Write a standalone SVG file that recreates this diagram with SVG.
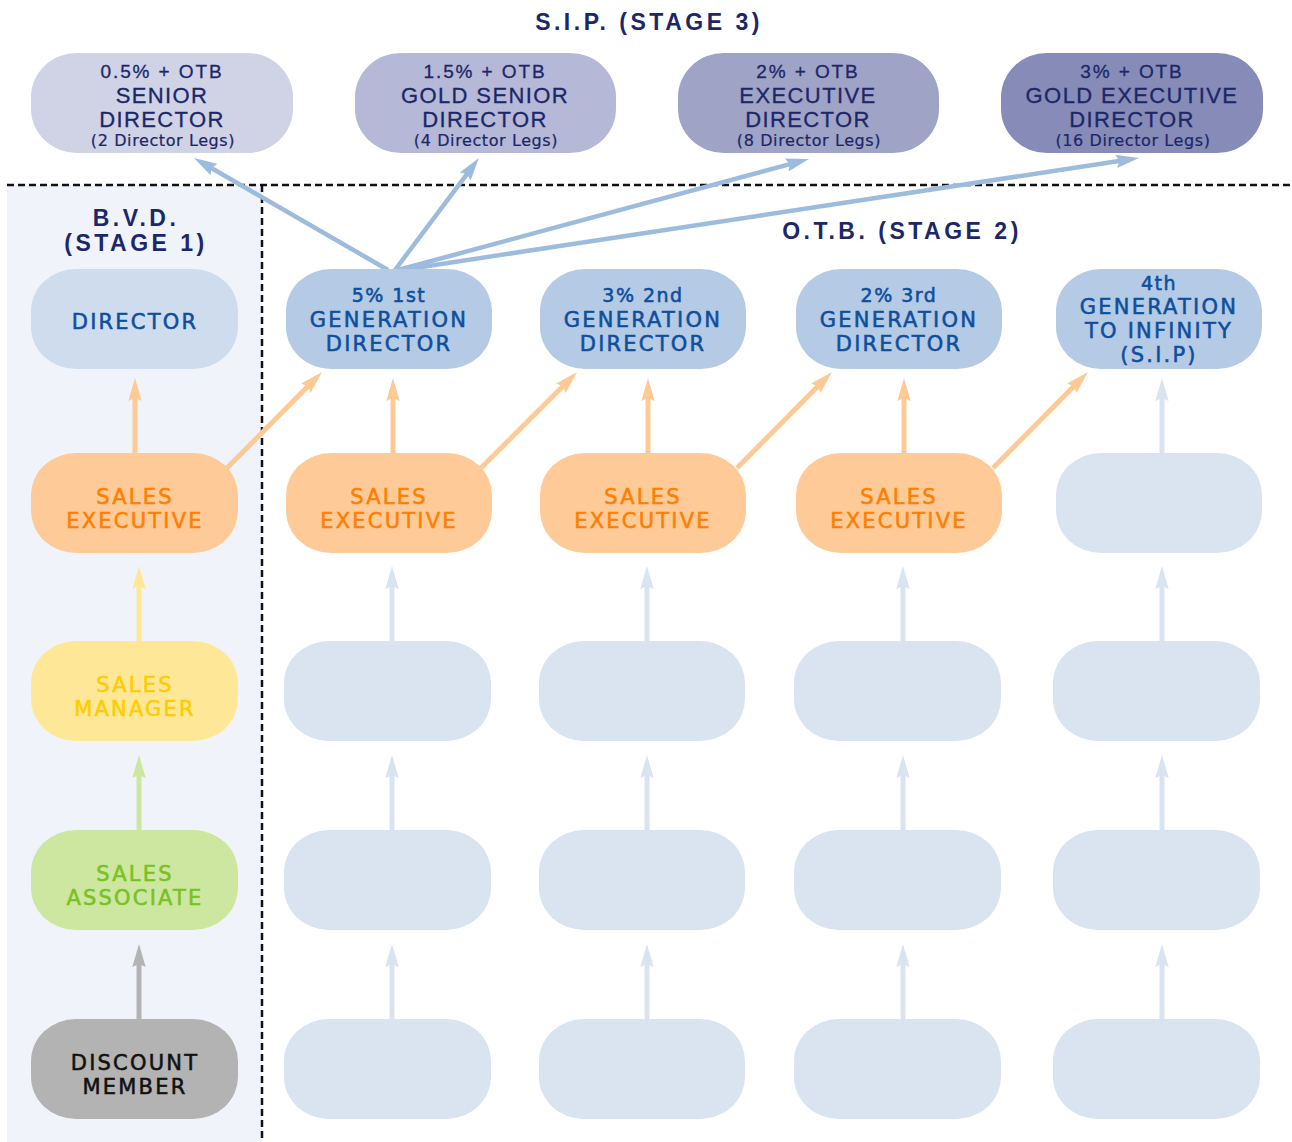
<svg xmlns="http://www.w3.org/2000/svg" width="1292" height="1142" viewBox="0 0 1292 1142">
<defs>
<style>
.t{font-family:"DejaVu Sans","Liberation Sans",sans-serif;text-anchor:middle;stroke-width:0.55px}
.s{font-family:"Liberation Sans","DejaVu Sans",sans-serif;text-anchor:middle;fill:#1b2768;stroke:#1b2768;stroke-width:0.3px}
.lg{font-family:"DejaVu Sans","Liberation Sans",sans-serif}
.ttl{font-family:"Liberation Sans","DejaVu Sans",sans-serif;font-weight:bold;font-size:23px;letter-spacing:3.5px;fill:#1b2768;text-anchor:middle}
.n{font-size:21px;letter-spacing:2.2px}
.sm{font-size:19px;letter-spacing:1.5px}
.s1{font-size:19px;letter-spacing:1.9px}
.s2{font-size:22px;letter-spacing:1.4px}
.s3{font-size:16px;letter-spacing:0.6px;stroke-width:0.2px}
.dir{fill:#0d4f9e;stroke:#0d4f9e}
.se{fill:#ff7f00;stroke:#ff7f00}
.smg{fill:#ffcc00;stroke:#ffcc00}
.sa{fill:#7ac123;stroke:#7ac123}
.dm{fill:#111111;stroke:#111111}
.ln{fill:none;stroke-width:5}
.sip{stroke:#9dbcdd;stroke-width:4.5;marker-end:url(#mSip)}
.or{stroke:#fdca96;marker-end:url(#mOr)}
.lb{stroke:#d9e4f0;marker-end:url(#mLb)}
.ye{stroke:#fee898;marker-end:url(#mYe)}
.gr{stroke:#cde7a1;marker-end:url(#mGr)}
.gy{stroke:#b3b3b3;marker-end:url(#mGy)}
</style>
<marker id="mSip" markerUnits="userSpaceOnUse" markerWidth="24" markerHeight="14" refX="11" refY="6.7" orient="auto"><path d="M0,0 L23,6.7 L0,13.4 L3,6.7 z" fill="#9dbcdd"/></marker>
<marker id="mOr" markerUnits="userSpaceOnUse" markerWidth="24" markerHeight="14" refX="11" refY="6.7" orient="auto"><path d="M0,0 L23,6.7 L0,13.4 L3,6.7 z" fill="#fdca96"/></marker>
<marker id="mLb" markerUnits="userSpaceOnUse" markerWidth="24" markerHeight="14" refX="11" refY="6.7" orient="auto"><path d="M0,0 L23,6.7 L0,13.4 L3,6.7 z" fill="#d9e4f0"/></marker>
<marker id="mYe" markerUnits="userSpaceOnUse" markerWidth="24" markerHeight="14" refX="11" refY="6.7" orient="auto"><path d="M0,0 L23,6.7 L0,13.4 L3,6.7 z" fill="#fee898"/></marker>
<marker id="mGr" markerUnits="userSpaceOnUse" markerWidth="24" markerHeight="14" refX="11" refY="6.7" orient="auto"><path d="M0,0 L23,6.7 L0,13.4 L3,6.7 z" fill="#cde7a1"/></marker>
<marker id="mGy" markerUnits="userSpaceOnUse" markerWidth="24" markerHeight="14" refX="11" refY="6.7" orient="auto"><path d="M0,0 L23,6.7 L0,13.4 L3,6.7 z" fill="#b3b3b3"/></marker>
</defs>
<rect width="1292" height="1142" fill="#ffffff"/>
<rect id="bvd-panel" x="7" y="185" width="255" height="957" fill="#f0f4fa"/>
<g id="dividers" stroke="#111" stroke-width="2.5" stroke-dasharray="7,4" fill="none">
<line x1="7" y1="185" x2="1292" y2="185"/>
<line x1="262" y1="185" x2="262" y2="1142"/>
</g>
<g id="titles">
<text class="ttl" x="649" y="30">S.I.P. (STAGE 3)</text>
<text class="ttl" x="136" y="226">B.V.D.</text>
<text class="ttl" x="136" y="251">(STAGE 1)</text>
<text class="ttl" x="902" y="239">O.T.B. (STAGE 2)</text>
</g>
<g id="connectors">
<line class="sip" x1="388" y1="270" x2="204.4" y2="164"/>
<line class="sip" x1="395" y1="270" x2="471.8" y2="167.6"/>
<line class="sip" x1="398" y1="270" x2="797.4" y2="162.1"/>
<line class="sip" x1="402" y1="270" x2="1127.1" y2="159.8"/>
<line class="ln or" x1="135" y1="453" x2="135" y2="390"/>
<line class="ln or" x1="393" y1="453" x2="393" y2="390"/>
<line class="ln or" x1="648" y1="453" x2="648" y2="390"/>
<line class="ln or" x1="904" y1="453" x2="904" y2="390"/>
<line class="ln lb" x1="1162" y1="453" x2="1162" y2="390"/>
<line class="ln or" x1="227" y1="468" x2="313.6" y2="380.5"/>
<line class="ln or" x1="481" y1="468" x2="568.6" y2="380.5"/>
<line class="ln or" x1="737" y1="468" x2="823.6" y2="380.5"/>
<line class="ln or" x1="993" y1="468" x2="1079.6" y2="380.5"/>
<line class="ln ye" x1="139" y1="641" x2="139" y2="578"/>
<line class="ln lb" x1="392" y1="641" x2="392" y2="578"/>
<line class="ln lb" x1="647" y1="641" x2="647" y2="578"/>
<line class="ln lb" x1="903" y1="641" x2="903" y2="578"/>
<line class="ln lb" x1="1162" y1="641" x2="1162" y2="578"/>
<line class="ln gr" x1="139" y1="830" x2="139" y2="767"/>
<line class="ln lb" x1="392" y1="830" x2="392" y2="767"/>
<line class="ln lb" x1="647" y1="830" x2="647" y2="767"/>
<line class="ln lb" x1="903" y1="830" x2="903" y2="767"/>
<line class="ln lb" x1="1162" y1="830" x2="1162" y2="767"/>
<line class="ln gy" x1="139" y1="1019" x2="139" y2="956"/>
<line class="ln lb" x1="392" y1="1019" x2="392" y2="956"/>
<line class="ln lb" x1="647" y1="1019" x2="647" y2="956"/>
<line class="ln lb" x1="903" y1="1019" x2="903" y2="956"/>
<line class="ln lb" x1="1162" y1="1019" x2="1162" y2="956"/>
</g>
<g id="sip-senior-director">
<rect x="31" y="53" width="262" height="100" rx="46" ry="44" fill="#d0d2e6"/>
<text class="s s1" x="162" y="78">0.5% + OTB</text>
<text class="s s2" x="162" y="103">SENIOR</text>
<text class="s s2" x="162" y="127">DIRECTOR</text>
<text class="s s3 lg" x="163" y="146">(2 Director Legs)</text>
</g>
<g id="sip-gold-senior-director">
<rect x="355" y="53" width="261" height="100" rx="46" ry="44" fill="#b5b8d6"/>
<text class="s s1" x="485" y="78">1.5% + OTB</text>
<text class="s s2" x="485" y="103">GOLD SENIOR</text>
<text class="s s2" x="485" y="127">DIRECTOR</text>
<text class="s s3 lg" x="486" y="146">(4 Director Legs)</text>
</g>
<g id="sip-executive-director">
<rect x="678" y="53" width="261" height="100" rx="46" ry="44" fill="#9fa3c6"/>
<text class="s s1" x="808" y="78">2% + OTB</text>
<text class="s s2" x="808" y="103">EXECUTIVE</text>
<text class="s s2" x="808" y="127">DIRECTOR</text>
<text class="s s3 lg" x="809" y="146">(8 Director Legs)</text>
</g>
<g id="sip-gold-executive-director">
<rect x="1001" y="53" width="262" height="100" rx="46" ry="44" fill="#868bb7"/>
<text class="s s1" x="1132" y="78">3% + OTB</text>
<text class="s s2" x="1132" y="103">GOLD EXECUTIVE</text>
<text class="s s2" x="1132" y="127">DIRECTOR</text>
<text class="s s3 lg" x="1133" y="146">(16 Director Legs)</text>
</g>
<g id="bvd-director">
<rect x="31" y="269" width="207" height="100" rx="45" ry="42" fill="#cfdcee"/>
<text class="t n dir" x="135" y="329">DIRECTOR</text>
</g>
<g id="otb-director-1">
<rect x="286" y="269" width="206" height="100" rx="45" ry="42" fill="#b5cae4"/>
<text class="t sm dir" x="389" y="302">5% 1st</text>
<text class="t n dir" x="389" y="327">GENERATION</text>
<text class="t n dir" x="389" y="351">DIRECTOR</text>
</g>
<g id="otb-director-2">
<rect x="540" y="269" width="206" height="100" rx="45" ry="42" fill="#b5cae4"/>
<text class="t sm dir" x="643" y="302">3% 2nd</text>
<text class="t n dir" x="643" y="327">GENERATION</text>
<text class="t n dir" x="643" y="351">DIRECTOR</text>
</g>
<g id="otb-director-3">
<rect x="796" y="269" width="206" height="100" rx="45" ry="42" fill="#b5cae4"/>
<text class="t sm dir" x="899" y="302">2% 3rd</text>
<text class="t n dir" x="899" y="327">GENERATION</text>
<text class="t n dir" x="899" y="351">DIRECTOR</text>
</g>
<g id="otb-director-4">
<rect x="1056" y="269" width="206" height="100" rx="45" ry="42" fill="#b5cae4"/>
<text class="t sm dir" x="1159" y="290">4th</text>
<text class="t n dir" x="1159" y="314">GENERATION</text>
<text class="t n dir" x="1159" y="338">TO INFINITY</text>
<text class="t n dir" x="1159" y="362">(S.I.P)</text>
</g>
<g id="bvd-sales-executive">
<rect x="31" y="453" width="207" height="100" rx="45" ry="42" fill="#fecb98"/>
<text class="t n se" x="135" y="504">SALES</text>
<text class="t n se" x="135" y="528">EXECUTIVE</text>
</g>
<g id="otb-sales-executive-1">
<rect x="286" y="453" width="206" height="100" rx="45" ry="42" fill="#fecb98"/>
<text class="t n se" x="389" y="504">SALES</text>
<text class="t n se" x="389" y="528">EXECUTIVE</text>
</g>
<g id="otb-sales-executive-2">
<rect x="540" y="453" width="206" height="100" rx="45" ry="42" fill="#fecb98"/>
<text class="t n se" x="643" y="504">SALES</text>
<text class="t n se" x="643" y="528">EXECUTIVE</text>
</g>
<g id="otb-sales-executive-3">
<rect x="796" y="453" width="206" height="100" rx="45" ry="42" fill="#fecb98"/>
<text class="t n se" x="899" y="504">SALES</text>
<text class="t n se" x="899" y="528">EXECUTIVE</text>
</g>
<g id="otb-empty-4-se">
<rect x="1056" y="453" width="206" height="100" rx="45" ry="42" fill="#d9e4f0"/>
</g>
<g id="bvd-sales-manager">
<rect x="31" y="641" width="207" height="100" rx="45" ry="42" fill="#fee898"/>
<text class="t n smg" x="135" y="692">SALES</text>
<text class="t n smg" x="135" y="716">MANAGER</text>
</g>
<g id="otb-empty-1-sm"><rect x="284" y="641" width="207" height="100" rx="45" ry="42" fill="#d9e4f0"/></g>
<g id="otb-empty-2-sm"><rect x="539" y="641" width="206" height="100" rx="45" ry="42" fill="#d9e4f0"/></g>
<g id="otb-empty-3-sm"><rect x="794" y="641" width="207" height="100" rx="45" ry="42" fill="#d9e4f0"/></g>
<g id="otb-empty-4-sm"><rect x="1053" y="641" width="207" height="100" rx="45" ry="42" fill="#d9e4f0"/></g>
<g id="bvd-sales-associate">
<rect x="31" y="830" width="207" height="100" rx="45" ry="42" fill="#cde7a1"/>
<text class="t n sa" x="135" y="881">SALES</text>
<text class="t n sa" x="135" y="905">ASSOCIATE</text>
</g>
<g id="otb-empty-1-sa"><rect x="284" y="830" width="207" height="100" rx="45" ry="42" fill="#d9e4f0"/></g>
<g id="otb-empty-2-sa"><rect x="539" y="830" width="206" height="100" rx="45" ry="42" fill="#d9e4f0"/></g>
<g id="otb-empty-3-sa"><rect x="794" y="830" width="207" height="100" rx="45" ry="42" fill="#d9e4f0"/></g>
<g id="otb-empty-4-sa"><rect x="1053" y="830" width="207" height="100" rx="45" ry="42" fill="#d9e4f0"/></g>
<g id="bvd-discount-member">
<rect x="31" y="1019" width="207" height="100" rx="45" ry="42" fill="#b3b3b3"/>
<text class="t n dm" x="135" y="1070">DISCOUNT</text>
<text class="t n dm" x="135" y="1094">MEMBER</text>
</g>
<g id="otb-empty-1-dm"><rect x="284" y="1019" width="207" height="100" rx="45" ry="42" fill="#d9e4f0"/></g>
<g id="otb-empty-2-dm"><rect x="539" y="1019" width="206" height="100" rx="45" ry="42" fill="#d9e4f0"/></g>
<g id="otb-empty-3-dm"><rect x="794" y="1019" width="207" height="100" rx="45" ry="42" fill="#d9e4f0"/></g>
<g id="otb-empty-4-dm"><rect x="1053" y="1019" width="207" height="100" rx="45" ry="42" fill="#d9e4f0"/></g>
</svg>
